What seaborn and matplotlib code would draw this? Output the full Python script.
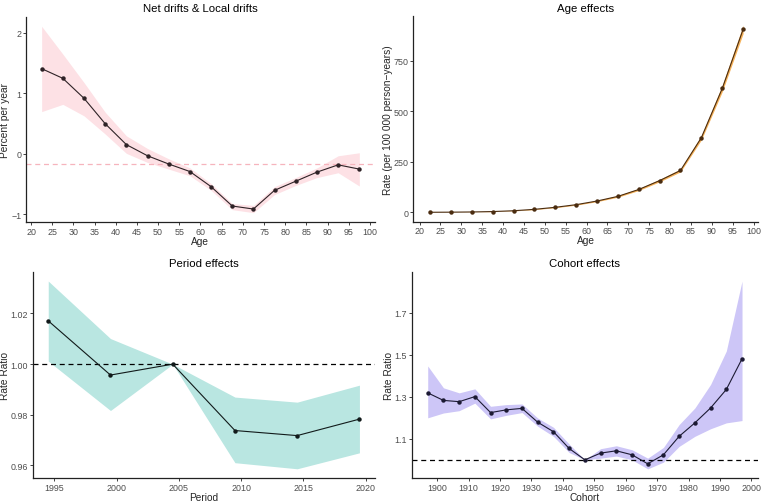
import matplotlib
matplotlib.use("Agg")
import matplotlib.pyplot as plt
import seaborn as sns
import pandas as pd

# ---- data ----
age_mid = [22.5, 27.5, 32.5, 37.5, 42.5, 47.5, 52.5, 57.5, 62.5, 67.5, 72.5, 77.5, 82.5, 87.5, 92.5, 97.5]
local_drift = [1.41, 1.25, 0.92, 0.50, 0.155, -0.03, -0.166, -0.29, -0.54, -0.86, -0.91, -0.60, -0.45, -0.30, -0.18, -0.25]
local_drift_hi = [2.11, 1.65, 1.18, 0.69, 0.30, 0.09, -0.08, -0.23, -0.49, -0.82, -0.85, -0.54, -0.39, -0.23, -0.03, 0.02]
local_drift_lo = [0.70, 0.82, 0.63, 0.33, 0.01, -0.14, -0.25, -0.36, -0.60, -0.92, -0.97, -0.67, -0.52, -0.39, -0.31, -0.53]
net_drift = -0.166

age_rate = [0.5, 1, 2, 4, 8, 15, 25, 38, 56, 79, 113, 157, 207, 369, 612, 904]
age_rate_hi = [0.6, 1.2, 2.3, 4.5, 9, 16.5, 27, 40.5, 59, 83, 118, 163, 214, 380, 628, 925]
age_rate_lo = [0.4, 0.8, 1.7, 3.5, 7, 13.5, 23, 35.5, 53, 75, 108, 151, 200, 358, 596, 883]

period = [1994.5, 1999.5, 2004.5, 2009.5, 2014.5, 2019.5]
period_rr = [1.0171, 0.9957, 1.0000, 0.9738, 0.9718, 0.9783]
period_hi = [1.0328, 1.0101, 1.0000, 0.9870, 0.9850, 0.9917]
period_lo = [1.0012, 0.9817, 1.0000, 0.9611, 0.9587, 0.9650]

cohort = [1897, 1902, 1907, 1912, 1917, 1922, 1927, 1932, 1937, 1942, 1947,
          1952, 1957, 1962, 1967, 1972, 1977, 1982, 1987, 1992, 1997]
cohort_rr = [1.319, 1.283, 1.277, 1.301, 1.225, 1.238, 1.245, 1.179, 1.134, 1.054, 1.000,
             1.032, 1.043, 1.024, 0.981, 1.024, 1.112, 1.176, 1.247, 1.335, 1.481]
cohort_hi = [1.447, 1.343, 1.319, 1.338, 1.255, 1.263, 1.266, 1.199, 1.155, 1.075, 1.000,
             1.053, 1.067, 1.048, 1.008, 1.059, 1.168, 1.247, 1.359, 1.518, 1.851]
cohort_lo = [1.200, 1.223, 1.234, 1.270, 1.195, 1.212, 1.225, 1.160, 1.112, 1.035, 1.000,
             1.008, 1.018, 1.000, 0.957, 0.989, 1.064, 1.112, 1.148, 1.176, 1.187]

age_ticks = list(range(20, 101, 5))
period_ticks = [1995, 2000, 2005, 2010, 2015, 2020]
cohort_ticks = list(range(1900, 2001, 10))

# ---- style ----
sns.set_theme(style="ticks")
plt.rcParams["font.family"] = ["Liberation Sans", "DejaVu Sans"]

fig = plt.figure(figsize=(7.62, 5.02), dpi=100)
ax1 = fig.add_axes([0.0341, 0.5558, 0.458, 0.4084])
ax2 = fig.add_axes([0.5424, 0.5564, 0.452, 0.409])
ax3 = fig.add_axes([0.0429, 0.0452, 0.4492, 0.4116])
ax4 = fig.add_axes([0.5407, 0.0452, 0.4537, 0.4116])

TICK_FS = 6.4
LAB_FS = 7.3
TITLE_FS = 8.2
line_kw = dict(marker="o", markersize=3.2, markeredgewidth=0, linewidth=0.8)


def style(ax, title, xlabel, ylabel):
    for s in ["top", "right"]:
        ax.spines[s].set_visible(False)
    for s in ["left", "bottom"]:
        ax.spines[s].set_linewidth(0.9)
        ax.spines[s].set_color("#222222")
    ax.tick_params(axis="both", labelsize=TICK_FS, colors="#222222", labelcolor="#4d4d4d",
                   length=2.2, width=0.6, pad=1.2)
    ax.set_title(title, fontsize=TITLE_FS, pad=4, color="black")
    ax.set_xlabel(xlabel, fontsize=LAB_FS, labelpad=0)
    ax.set_ylabel(ylabel, fontsize=LAB_FS, labelpad=0.5)


# Panel 1: net & local drifts
d1 = pd.DataFrame({"age": age_mid, "drift": local_drift})
ax1.fill_between(age_mid, local_drift_lo, local_drift_hi, color="#fde1e5", linewidth=0)
ax1.axhline(net_drift, color="#f6b4bd", linestyle=(0, (4, 3)), linewidth=0.9)
sns.lineplot(data=d1, x="age", y="drift", ax=ax1, color="#2e2226", **line_kw)
ax1.set_xlim(18.8, 101.2)
ax1.set_ylim(-1.124, 2.264)
ax1.set_xticks(age_ticks)
ax1.set_yticks([-1, 0, 1, 2])
ax1.set_yticklabels(["\u22121", "0", "1", "2"])
style(ax1, "Net drifts & Local drifts", "Age", "Percent per year")

# Panel 2: age effects
d2 = pd.DataFrame({"age": age_mid, "rate": age_rate})
ax2.fill_between(age_mid, age_rate_lo, age_rate_hi, color="#f5b25a", linewidth=0)
sns.lineplot(data=d2, x="age", y="rate", ax=ax2, color="#4a2c10", **line_kw)
ax2.set_xlim(18.5, 101)
ax2.set_ylim(-46, 968)
ax2.set_xticks(age_ticks)
ax2.set_yticks([0, 250, 500, 750])
style(ax2, "Age effects", "Age", "Rate (per 100 000 person\u2212years)")

# Panel 3: period effects
d3 = pd.DataFrame({"period": period, "rr": period_rr})
ax3.fill_between(period, period_lo, period_hi, color="#b9e6e1", linewidth=0)
ax3.axhline(1.0, color="black", linestyle=(0, (4, 3)), linewidth=0.9)
sns.lineplot(data=d3, x="period", y="rr", ax=ax3, color="#111a1a", **line_kw)
ax3.set_xlim(1993.25, 2020.75)
ax3.set_ylim(0.95494, 1.0365)
ax3.set_xticks(period_ticks)
ax3.set_yticks([0.96, 0.98, 1.00, 1.02])
ax3.set_yticklabels(["0.96", "0.98", "1.00", "1.02"])
style(ax3, "Period effects", "Period", "Rate Ratio")

# Panel 4: cohort effects
d4 = pd.DataFrame({"cohort": cohort, "rr": cohort_rr})
ax4.fill_between(cohort, cohort_lo, cohort_hi, color="#cdc6f7", linewidth=0)
ax4.axhline(1.0, color="black", linestyle=(0, (4, 3)), linewidth=0.9)
sns.lineplot(data=d4, x="cohort", y="rr", ax=ax4, color="#1c1a33", **line_kw)
ax4.set_xlim(1892, 2002)
ax4.set_ylim(0.912, 1.896)
ax4.set_xticks(cohort_ticks)
ax4.set_yticks([1.1, 1.3, 1.5, 1.7])
ax4.set_yticklabels(["1.1", "1.3", "1.5", "1.7"])
style(ax4, "Cohort effects", "Cohort", "Rate Ratio")

fig.savefig("out.png", dpi=100)
